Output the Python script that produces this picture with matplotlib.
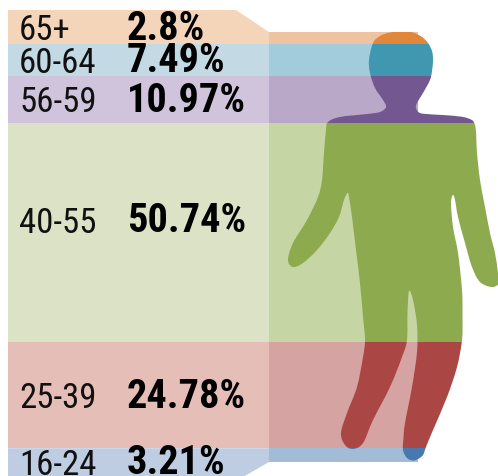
import numpy as np
import matplotlib
matplotlib.use("Agg")
import matplotlib.pyplot as plt
from matplotlib.patches import Polygon, Rectangle, PathPatch
from matplotlib.path import Path

ages = ["65+", "60-64", "56-59", "40-55", "25-39", "16-24"]
shares = [2.8, 7.49, 10.97, 50.74, 24.78, 3.21]
share_labels = ["2.8%", "7.49%", "10.97%", "50.74%", "24.78%", "3.21%"]
baseline = [40, 73, 112, 233, 408, 475]
pale = ["#F5D5BA", "#C3DAE5", "#CFC4DC", "#DBE2C5", "#E4BEB7", "#BFCDE3"]
mid = ["#EEC3A0", "#A2CCDB", "#B9A8C8", "#C6D5A4", "#D4A3A2", "#A2BBD6"]
strong = ["#E0873A", "#3F97B0", "#735790", "#8DAA4F", "#AA4644", "#4878AE"]

# outline of the figure, clockwise from top of the head
person = [(390, 32.5), (402, 31.5), (413, 32.5), (422, 37), (428, 43), (432, 51), (433, 60),
          (432, 71), (430, 80), (423, 93), (417, 103), (416, 108), (420, 113), (433, 114.5),
          (450, 115.5), (467, 118), (475, 125),
          (477, 153), (480, 180), (485, 207), (490, 233), (495, 253), (498, 273),
          (499, 283), (492, 287), (480, 282), (472, 267), (465, 243), (458, 217),
          (455, 200), (453, 195), (451, 203), (453, 227), (458, 253), (462, 290),
          (462.5, 317), (462, 340), (457, 367), (447, 397), (433, 430), (426, 447),
          (423, 455), (418, 459), (413, 460.5), (407, 458), (403, 450), (403.5, 438), (405, 423),
          (412, 387), (417, 352), (417, 325), (413, 300), (409, 291), (407.5, 313), (407, 340),
          (402, 357), (390, 387), (373, 420), (363, 443), (353, 449), (345, 445),
          (341, 433), (347, 413), (357, 387), (363, 357), (365, 340), (363, 317),
          (360, 283), (356, 250), (352, 217), (349, 197), (347.5, 193), (344, 200),
          (339, 217), (330, 233), (317, 250), (303, 263), (293, 267), (288, 260),
          (293, 243), (307, 220), (318, 197), (322, 180), (324, 153), (326, 130),
          (328, 122), (340, 117), (367, 114), (380, 112), (386, 107), (383, 100),
          (375, 88), (370, 73), (369, 60), (373, 43), (380, 36)]


def smooth_path(pts):
    pts = np.array(pts, dtype=float)
    n = len(pts)
    verts = [pts[0]]
    codes = [Path.MOVETO]
    for i in range(n):
        p0, p1, p2, p3 = pts[i - 1], pts[i], pts[(i + 1) % n], pts[(i + 2) % n]
        verts += [p1 + (p2 - p0) / 6, p2 - (p3 - p1) / 6, p2]
        codes += [Path.CURVE4] * 3
    return Path(verts, codes)


fig = plt.figure(figsize=(4.98, 4.76), dpi=100)
ax = fig.add_axes([0, 0, 1, 1])
ax.set_xlim(0, 498)
ax.set_ylim(476, 0)
ax.axis("off")

# band heights come from the shares, the figure spans 430 px
edges = 32 + np.concatenate([[0], np.cumsum(shares)]) * 430 / sum(shares)
left, mid_x, right = 8, 269, 418
outline = smooth_path(person)

for i in range(len(ages)):
    top, bot = edges[i], edges[i + 1]
    if i == 0:
        ax.add_patch(Polygon([(left, 10), (236, 10), (mid_x, top), (mid_x, bot), (left, bot)], fc=pale[i], ec="none"))
    elif i == len(ages) - 1:
        ax.add_patch(Polygon([(left, top), (mid_x, top), (mid_x, bot), (238, 480), (left, 480)], fc=pale[i], ec="none"))
    else:
        ax.add_patch(Rectangle((left, top), mid_x - left, bot - top, fc=pale[i], ec="none"))
    ax.add_patch(Rectangle((mid_x, top), right - mid_x, bot - top, fc=mid[i], ec="none"))
    body = Rectangle((mid_x, top), 500 - mid_x, bot - top, fc=strong[i], ec="none")
    ax.add_patch(body)
    body.set_clip_path(PathPatch(outline, transform=ax.transData))
    ax.text(19, baseline[i], ages[i], fontsize=25, family="Roboto Condensed", weight=400, va="baseline", color="#111111")
    ax.text(127, baseline[i] - 0.5, share_labels[i], fontsize=29, family="Roboto Condensed",
            weight="bold", va="baseline", color="black")

fig.savefig("out.png", dpi=100)
